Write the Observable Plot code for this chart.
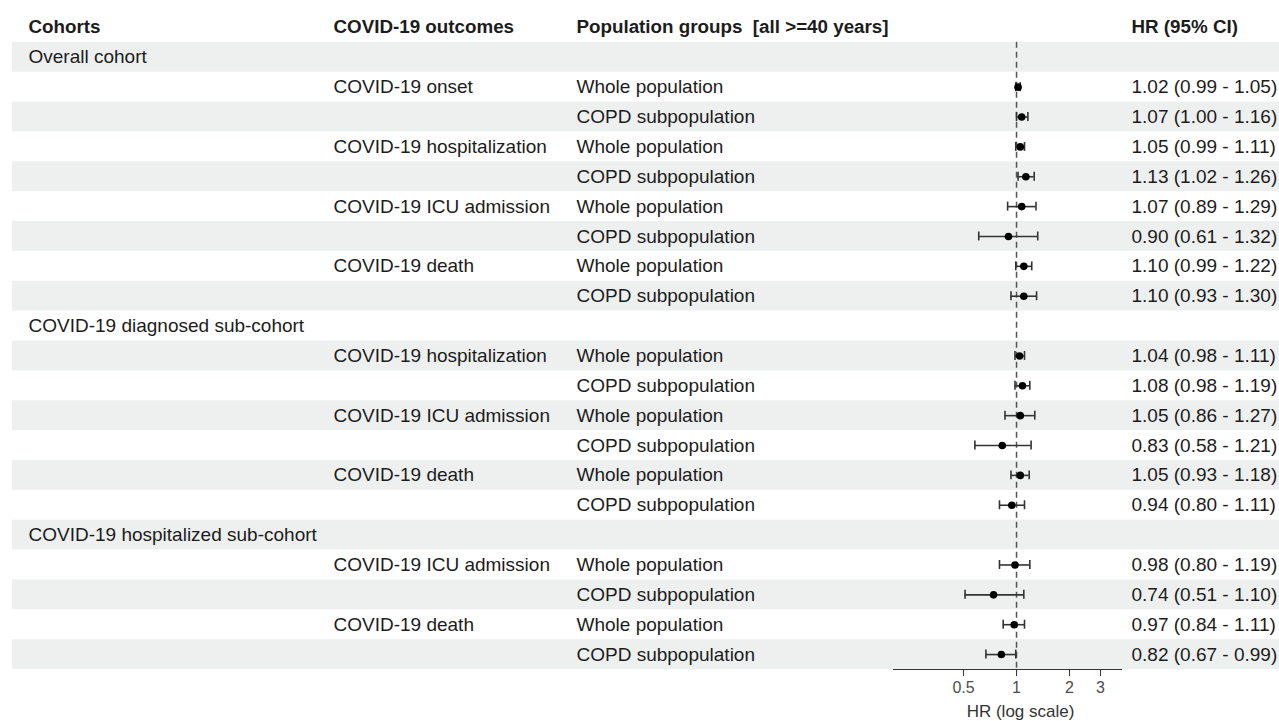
<!DOCTYPE html>
<html>
<head>
<meta charset="utf-8">
<script src="https://cdn.jsdelivr.net/npm/d3@7"></script>
<script src="https://cdn.jsdelivr.net/npm/@observablehq/plot@0.6"></script>
<style>
  html, body { margin: 0; padding: 0; background: #ffffff; }
  svg text { white-space: pre; }
</style>
</head>
<body>
<div id="chart"></div>
<script>
const headers = ["Cohorts", "COVID-19 outcomes", "Population groups  [all >=40 years]", "HR (95% CI)"];
const cohortLabels = ["Overall cohort", "", "", "", "", "", "", "", "", "COVID-19 diagnosed sub-cohort", "", "", "", "", "", "", "COVID-19 hospitalized sub-cohort", "", "", "", ""];
const outcomeLabels = ["", "COVID-19 onset", "", "COVID-19 hospitalization", "", "COVID-19 ICU admission", "", "COVID-19 death", "", "", "COVID-19 hospitalization", "", "COVID-19 ICU admission", "", "COVID-19 death", "", "", "COVID-19 ICU admission", "", "COVID-19 death", ""];
const groupLabels = ["", "Whole population", "COPD subpopulation", "Whole population", "COPD subpopulation", "Whole population", "COPD subpopulation", "Whole population", "COPD subpopulation", "", "Whole population", "COPD subpopulation", "Whole population", "COPD subpopulation", "Whole population", "COPD subpopulation", "", "Whole population", "COPD subpopulation", "Whole population", "COPD subpopulation"];
const hr     = [null, 1.02, 1.07, 1.05, 1.13, 1.07, 0.90, 1.10, 1.10, null, 1.04, 1.08, 1.05, 0.83, 1.05, 0.94, null, 0.98, 0.74, 0.97, 0.82];
const ciLow  = [null, 0.99, 1.00, 0.99, 1.02, 0.89, 0.61, 0.99, 0.93, null, 0.98, 0.98, 0.86, 0.58, 0.93, 0.80, null, 0.80, 0.51, 0.84, 0.67];
const ciHigh = [null, 1.05, 1.16, 1.11, 1.26, 1.29, 1.32, 1.22, 1.30, null, 1.11, 1.19, 1.27, 1.21, 1.18, 1.11, null, 1.19, 1.10, 1.11, 0.99];
const xTicks = [0.5, 1, 2, 3];
const xDomain = [0.2, 4];
const refValue = 1;
const axisTitle = "HR (log scale)";

(function () {
const f2 = d3.format(".2f");
const rows = cohortLabels.map((c, i) => ({
  i,
  cohort: c,
  outcome: outcomeLabels[i],
  group: groupLabels[i],
  hr: hr[i], lo: ciLow[i], hi: ciHigh[i],
  label: hr[i] == null ? "" : `${f2(hr[i])} (${f2(ciLow[i])} - ${f2(ciHigh[i])})`
}));
const est = rows.filter(d => d.hr != null);
const shaded = rows.filter(d => d.i % 2 === 0);
const yTop = -1.5, yBottom = rows.length - 0.5;
const headerRow = headers.map((h, k) => ({h, k, i: -1}));
const colDx = [16, 321, 564, 1119];
const font = "'Liberation Sans', Arial, Helvetica, sans-serif";
const ink = "#1c1c1c";

const chart = Plot.plot({
  width: 1279,
  height: 721,
  marginLeft: 12,
  marginRight: 0,
  marginTop: 12,
  marginBottom: 52,
  style: {fontFamily: font, fontSize: "19px", color: ink, background: "#ffffff"},
  x: {type: "log", domain: xDomain, range: [893, 1122]},
  y: {type: "linear", domain: [yTop, yBottom], range: [12, 669], axis: null},
  marks: [
    Plot.rect(shaded, {y1: d => d.i - 0.5, y2: d => d.i + 0.5, fill: "#eef0f0"}),
    ...headerRow.map(h => Plot.text([h], {y: "i", text: "h", frameAnchor: "left", textAnchor: "start", dx: colDx[h.k], fontWeight: "bold", fontSize: 18.8, fill: ink})),
    Plot.text(rows.filter(d => d.cohort), {y: "i", text: "cohort", frameAnchor: "left", textAnchor: "start", dx: colDx[0], fontSize: 19, fill: ink}),
    Plot.text(rows.filter(d => d.outcome), {y: "i", text: "outcome", frameAnchor: "left", textAnchor: "start", dx: colDx[1], fontSize: 19, fill: ink}),
    Plot.text(rows.filter(d => d.group), {y: "i", text: "group", frameAnchor: "left", textAnchor: "start", dx: colDx[2], fontSize: 19, fill: ink}),
    Plot.text(est, {y: "i", text: "label", frameAnchor: "left", textAnchor: "start", dx: colDx[3], fontSize: 19, fill: ink}),
    Plot.ruleX([refValue], {y1: -0.5, y2: yBottom, stroke: "#555", strokeWidth: 1.5, strokeDasharray: "6,4"}),
    Plot.ruleY(est, {y: "i", x1: "lo", x2: "hi", stroke: "#333", strokeWidth: 1.6}),
    Plot.ruleX(est, {x: "lo", y1: d => d.i - 0.15, y2: d => d.i + 0.15, stroke: "#333", strokeWidth: 1.6}),
    Plot.ruleX(est, {x: "hi", y1: d => d.i - 0.15, y2: d => d.i + 0.15, stroke: "#333", strokeWidth: 1.6}),
    Plot.dot(est, {x: "hr", y: "i", r: 3.8, fill: "#000", stroke: "none"}),
    Plot.ruleY([yBottom], {x1: xDomain[0], x2: xDomain[1], stroke: "#333", strokeWidth: 1}),
    Plot.axisX({ticks: xTicks, tickFormat: d => String(d), tickSize: 7, tickPadding: 5, fontSize: 16, stroke: "#333", color: "#4d4d4d", label: null}),
    Plot.text([{t: axisTitle, x: refValue}], {x: "x", text: "t", frameAnchor: "bottom", dy: 47, dx: 4, fontSize: 17, fill: "#333"})
  ]
});
document.getElementById("chart").appendChild(chart);
})();
</script>
</body>
</html>
